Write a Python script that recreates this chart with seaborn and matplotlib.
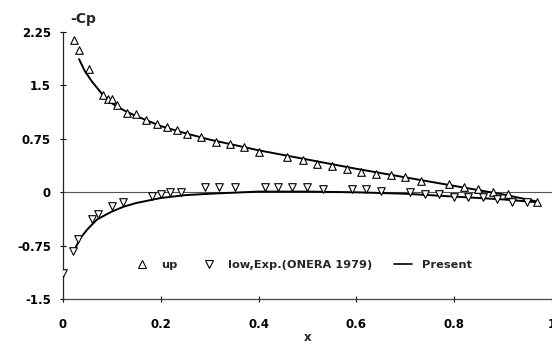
import numpy as np
import pandas as pd
import matplotlib
matplotlib.use("Agg")
import matplotlib.pyplot as plt
from matplotlib.lines import Line2D
import seaborn as sns

# Экспериментальные точки, верхняя поверхность
up_x = [0.022, 0.033, 0.053, 0.082, 0.092, 0.100, 0.110, 0.131, 0.149, 0.169,
        0.192, 0.212, 0.233, 0.253, 0.282, 0.314, 0.341, 0.371, 0.400, 0.459,
        0.490, 0.520, 0.551, 0.580, 0.610, 0.641, 0.671, 0.700, 0.733, 0.790,
        0.820, 0.849, 0.880, 0.910, 0.969]
up_cp = [2.14, 2.00, 1.73, 1.37, 1.31, 1.31, 1.23, 1.12, 1.10, 1.02,
         0.96, 0.92, 0.87, 0.82, 0.77, 0.71, 0.68, 0.63, 0.56, 0.49,
         0.46, 0.40, 0.37, 0.33, 0.29, 0.26, 0.25, 0.21, 0.16, 0.12,
         0.08, 0.04, 0.00, -0.03, -0.14]

# Экспериментальные точки, нижняя поверхность
low_x = [0.000, 0.020, 0.031, 0.059, 0.071, 0.100, 0.122, 0.182, 0.200, 0.218,
         0.241, 0.290, 0.320, 0.351, 0.414, 0.439, 0.469, 0.500, 0.531, 0.592,
         0.620, 0.651, 0.710, 0.741, 0.769, 0.800, 0.829, 0.859, 0.888, 0.918,
         0.949]
low_cp = [-1.13, -0.82, -0.65, -0.37, -0.30, -0.19, -0.14, -0.05, -0.02, 0.00,
          0.01, 0.07, 0.07, 0.08, 0.07, 0.07, 0.07, 0.07, 0.05, 0.05,
          0.04, 0.02, 0.01, -0.02, -0.03, -0.06, -0.07, -0.07, -0.10, -0.13,
          -0.13]

# Расчёт (Present)
calc_up_x = [0.033, 0.045, 0.06, 0.08, 0.10, 0.125, 0.15, 0.2, 0.25, 0.3, 0.4,
             0.5, 0.6, 0.7, 0.8, 0.9, 0.97]
calc_up_cp = [1.87, 1.70, 1.55, 1.38, 1.25, 1.15, 1.07, 0.93, 0.83, 0.74, 0.59,
              0.46, 0.33, 0.21, 0.09, -0.03, -0.13]
calc_low_x = [0.025, 0.035, 0.05, 0.07, 0.10, 0.125, 0.15, 0.2, 0.25, 0.3, 0.4,
              0.5, 0.6, 0.7, 0.8, 0.9, 0.97]
calc_low_cp = [-0.79, -0.65, -0.52, -0.38, -0.27, -0.20, -0.15, -0.08, -0.04,
               -0.02, 0.01, 0.01, 0.00, -0.02, -0.06, -0.10, -0.14]

x_ticks = [0, 0.2, 0.4, 0.6, 0.8, 1]
x_tick_labels = ["0", "0.2", "0.4", "0.6", "0.8", "1"]
y_ticks = [-1.5, -0.75, 0, 0.75, 1.5, 2.25]
y_tick_labels = ["-1.5", "-0.75", "0", "0.75", "1.5", "2.25"]

sns.set_style("ticks")
plt.rcParams["font.family"] = ["DejaVu Sans"]
plt.rcParams["font.weight"] = "bold"

fig = plt.figure(figsize=(5.52, 3.45), dpi=100)
ax = fig.add_axes([0.114, 0.133, 0.886, 0.774])

up_df = pd.DataFrame({"x": up_x, "cp": up_cp})
low_df = pd.DataFrame({"x": low_x, "cp": low_cp})

ax.axhline(0, color="#555555", linewidth=0.8, zorder=1)

sns.lineplot(x=calc_up_x, y=calc_up_cp, color="black", linewidth=1.4, ax=ax, zorder=2)
sns.lineplot(x=calc_low_x, y=calc_low_cp, color="black", linewidth=1.4, ax=ax, zorder=2)
sns.scatterplot(data=up_df, x="x", y="cp", marker="^", s=30, facecolor="white",
                edgecolor="black", linewidth=0.8, ax=ax, zorder=3)
sns.scatterplot(data=low_df, x="x", y="cp", marker="v", s=30, facecolor="white",
                edgecolor="black", linewidth=0.8, ax=ax, zorder=3)

ax.set_xlim(0, 1)
ax.set_ylim(-1.5, 2.25)
ax.set_xticks(x_ticks)
ax.set_xticklabels(x_tick_labels, fontsize=8.5, fontweight="bold")
ax.set_yticks(y_ticks)
ax.set_yticklabels(y_tick_labels, fontsize=8.5, fontweight="bold")
ax.tick_params(direction="inout", length=5, width=0.8, colors="black")
ax.tick_params(axis="x", pad=11)
ax.tick_params(axis="y", pad=6)
for side in ["top", "right"]:
    ax.spines[side].set_visible(False)
ax.spines["left"].set_linewidth(0.9)
ax.spines["bottom"].set_linewidth(0.9)
ax.spines["bottom"].set_color("#444444")

ax.set_xlabel("x", fontsize=8.5, fontweight="bold", labelpad=0)
ax.set_ylabel("")
fig.text(0.150, 0.945, "-Cp", fontsize=10, fontweight="bold", ha="center", va="center")

handles = [
    Line2D([], [], marker="^", linestyle="none", markerfacecolor="white",
           markeredgecolor="black", markersize=5.5, markeredgewidth=0.8),
    Line2D([], [], marker="v", linestyle="none", markerfacecolor="white",
           markeredgecolor="black", markersize=5.5, markeredgewidth=0.8),
    Line2D([], [], color="black", linewidth=1.2),
]
labels = ["up", "low,Exp.(ONERA 1979)", "Present"]
ax.legend(handles, labels, loc="center", bbox_to_anchor=(0.49, 0.127), ncol=3,
          frameon=False, handlelength=1.6, handletextpad=0.9,
          columnspacing=1.9, prop={"weight": "bold", "size": 8.2})

plt.savefig("out.png", dpi=100)
